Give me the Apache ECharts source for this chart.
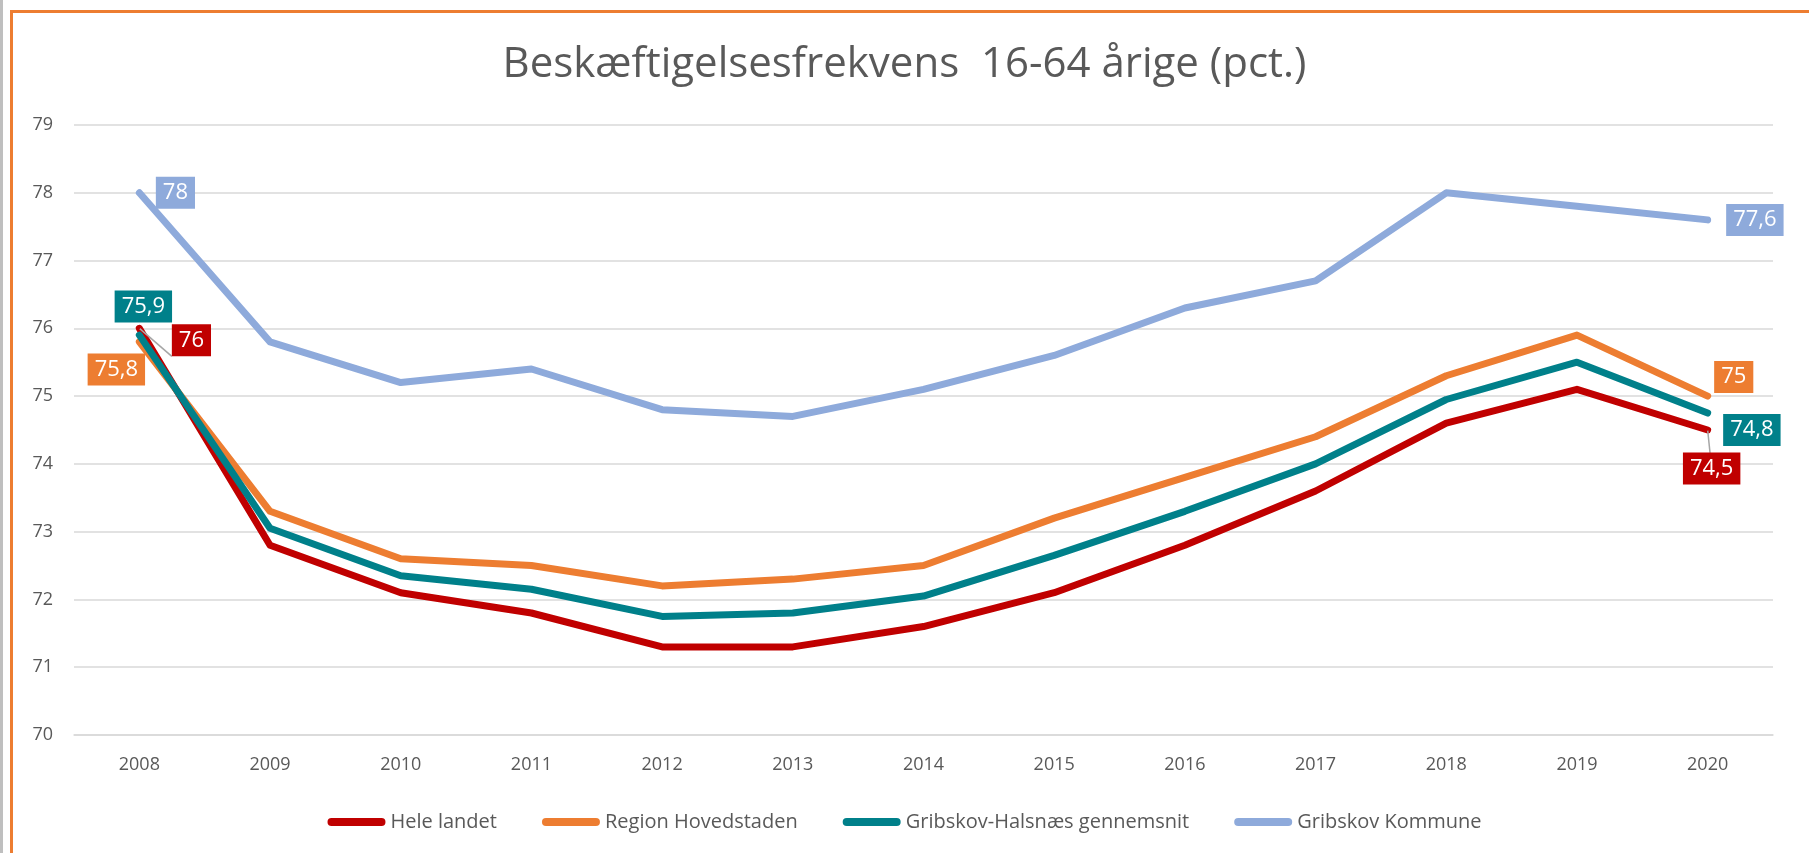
<!DOCTYPE html>
<html>
<head>
<meta charset="utf-8">
<script src="https://cdn.jsdelivr.net/npm/echarts@6/dist/echarts.min.js"></script>
<style>
html,body{margin:0;padding:0;background:#fff;}
#chart{width:1809px;height:853px;}
</style>
</head>
<body>
<div id="chart"></div>
<script>
const years = ['2008','2009','2010','2011','2012','2013','2014','2015','2016','2017','2018','2019','2020'];
const yTicks = [70,71,72,73,74,75,76,77,78,79];
const seriesNames = ['Hele landet','Region Hovedstaden','Gribskov-Halsnæs gennemsnit','Gribskov Kommune'];
const heleLandet = [76, 72.8, 72.1, 71.8, 71.3, 71.3, 71.6, 72.1, 72.8, 73.6, 74.6, 75.1, 74.5];
const regionHovedstaden = [75.8, 73.3, 72.6, 72.5, 72.2, 72.3, 72.5, 73.2, 73.8, 74.4, 75.3, 75.9, 75];
const gribskovHalsnaes = [75.9, 73.05, 72.35, 72.15, 71.75, 71.8, 72.05, 72.65, 73.3, 74.0, 74.95, 75.5, 74.75];
const gribskovKommune = [78, 75.8, 75.2, 75.4, 74.8, 74.7, 75.1, 75.6, 76.3, 76.7, 78.0, 77.8, 77.6];

const colors = ['#c00000', '#ed7d31', '#00808a', '#8eaadb'];
const FONT = 'Open Sans';

function fmt(v){ return (Math.round(v*10)/10).toString().replace('.', ','); }

// label placement for first / last points: [position, distance, offset, showLine]
const labelCfg = [
  [['right', 32, [0, 12], true], ['bottom', 22, [4, 0], true]],
  [['bottom', 11, [-23, 0], false], ['right', 6, [0, -19], false]],
  [['top', 12, [4, 0], false], ['right', 15, [0, 17], false]],
  [['right', 16, [0, 0], false], ['right', 18, [0, 0], false]]
];

function build(values, idx){
  return values.map((v, i) => {
    let cfg = null;
    if (i === 0) cfg = labelCfg[idx][0];
    if (i === values.length - 1) cfg = labelCfg[idx][1];
    if (!cfg) return v;
    return {
      value: v,
      label: {
        show: true,
        position: cfg[0],
        distance: cfg[1],
        offset: cfg[2],
        formatter: () => fmt(v),
        color: '#fff',
        backgroundColor: colors[idx],
        fontFamily: FONT,
        fontSize: 22,
        padding: [5, 7, 5, 7]
      },
      labelLine: { show: cfg[3], lineStyle: { color: '#a6a6a6', width: 1.5 } }
    };
  });
}

const allData = [heleLandet, regionHovedstaden, gribskovHalsnaes, gribskovKommune];

const chart = echarts.init(document.getElementById('chart'), null, {renderer: 'canvas'});
chart.setOption({
  backgroundColor: '#fff',
  animation: false,
  color: colors,
  title: {
    text: 'Beskæftigelsesfrekvens  16-64 årige (pct.)',
    left: 'center',
    top: 39,
    textStyle: { fontFamily: FONT, fontSize: 42, fontWeight: 'normal', color: '#595959' }
  },
  graphic: [
    { type: 'rect', shape: { x: 0, y: 0, width: 3, height: 853 }, style: { fill: '#bfbfbf' }, silent: true },
    { type: 'rect', shape: { x: 10, y: 10, width: 3, height: 843 }, style: { fill: '#ed7d31' }, silent: true },
    { type: 'rect', shape: { x: 10, y: 10, width: 1799, height: 3 }, style: { fill: '#ed7d31' }, silent: true }
  ],
  legend: {
    bottom: 16,
    left: 'center',
    data: seriesNames,
    icon: 'path://M4,0 H54 A4,4 0 0 1 54,8 H4 A4,4 0 0 1 4,0 Z',
    itemWidth: 58,
    itemHeight: 8,
    itemGap: 45,
    textStyle: { fontFamily: FONT, fontSize: 20, color: '#595959' }
  },
  grid: { left: 74, right: 36, top: 125, bottom: 118, containLabel: false },
  xAxis: {
    type: 'category',
    data: years,
    boundaryGap: true,
    axisLine: { show: true, lineStyle: { color: '#d9d9d9', width: 1.5 } },
    axisTick: { show: false },
    axisLabel: { fontFamily: FONT, fontSize: 18, color: '#595959', margin: 21 }
  },
  yAxis: {
    type: 'value',
    min: yTicks[0],
    max: yTicks[yTicks.length - 1],
    interval: 1,
    axisLine: { show: false },
    axisTick: { show: false },
    splitLine: { show: true, lineStyle: { color: '#d9d9d9', width: 1.5 } },
    axisLabel: { fontFamily: FONT, fontSize: 18, color: '#595959', margin: 21 }
  },
  series: seriesNames.map((name, idx) => ({
    name: name,
    type: 'line',
    data: build(allData[idx], idx),
    symbol: 'circle',
    symbolSize: 1,
    showSymbol: true,
    showAllSymbol: true,
    itemStyle: { color: colors[idx] },
    lineStyle: { width: 7, color: colors[idx], cap: 'round', join: 'round' },
    emphasis: { disabled: true },
    z: 2 + idx
  }))
});
</script>
</body>
</html>
